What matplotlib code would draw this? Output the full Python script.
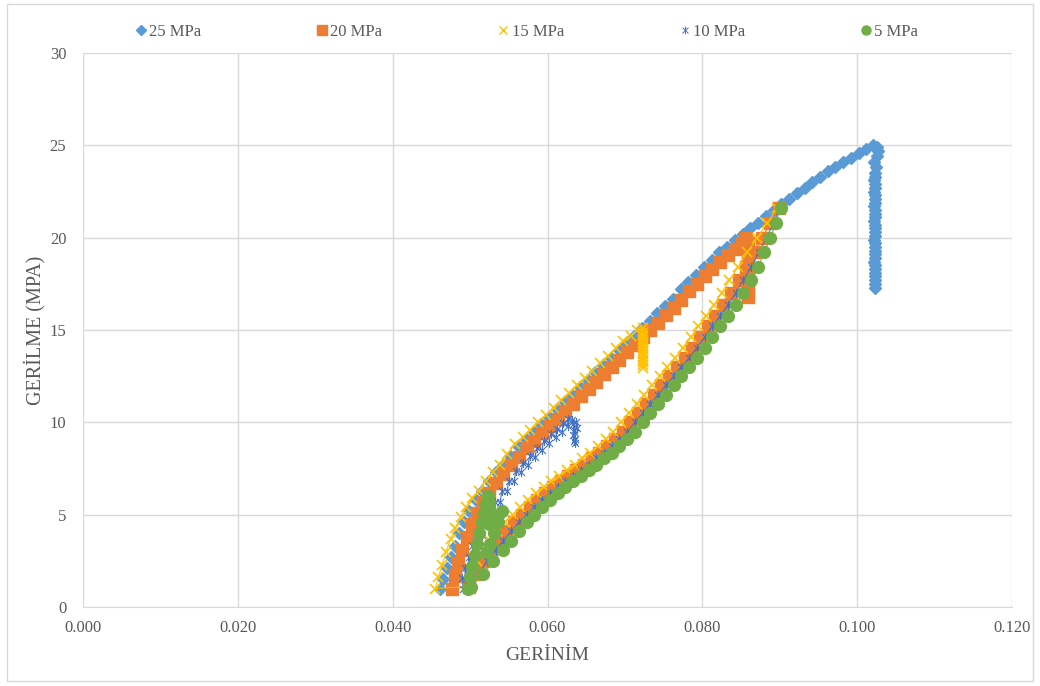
import matplotlib.pyplot as plt
from matplotlib.lines import Line2D
from matplotlib.path import Path
from matplotlib.patches import Rectangle

plt.rcParams['font.family'] = ['Liberation Serif', 'DejaVu Serif']

# 25 MPa: loading branch up to the peak, then stress drop at constant strain
up25_strain = [0.0461, 0.0465, 0.0470, 0.0475, 0.0480, 0.0486, 0.0492, 0.0499, 0.0507, 0.0515,
               0.0524, 0.0533, 0.0542, 0.0552, 0.0562, 0.0572, 0.0582, 0.0592, 0.0602, 0.0612,
               0.0622, 0.0632, 0.0642, 0.0652, 0.0662, 0.0672, 0.0682, 0.0692, 0.0702, 0.0712,
               0.0722, 0.0732, 0.0742, 0.0752, 0.0762, 0.0772, 0.0782, 0.0792, 0.0802, 0.0812,
               0.0822, 0.0832, 0.0842, 0.0852, 0.0862, 0.0872, 0.0882, 0.0892, 0.0902, 0.0912,
               0.0922, 0.0932, 0.0942, 0.0952, 0.0962, 0.0972, 0.0982, 0.0992, 0.1002, 0.1012,
               0.1020]
up25_stress = [1.0, 1.5, 2.1, 2.7, 3.3, 4.0, 4.6, 5.2, 5.8, 6.3,
               6.8, 7.3, 7.7, 8.2, 8.7, 9.1, 9.5, 9.9, 10.3, 10.7,
               11.1, 11.5, 11.9, 12.3, 12.7, 13.1, 13.5, 13.9, 14.3, 14.7,
               15.1, 15.5, 15.9, 16.3, 16.7, 17.2, 17.6, 18.0, 18.4, 18.8,
               19.2, 19.5, 19.9, 20.2, 20.5, 20.8, 21.2, 21.5, 21.8, 22.1,
               22.4, 22.7, 23.0, 23.3, 23.6, 23.8, 24.1, 24.3, 24.6, 24.8,
               25.0]
hold25_strain = [0.1025, 0.1027, 0.1025, 0.1022, 0.1024, 0.1023,
                 0.1023, 0.1022, 0.1023, 0.1023, 0.1022, 0.1023, 0.1023, 0.1023, 0.1022, 0.1023,
                 0.1023, 0.1023, 0.1022, 0.1023, 0.1023, 0.1023, 0.1023, 0.1022, 0.1023, 0.1023,
                 0.1023, 0.1023, 0.1023, 0.1022, 0.1023, 0.1023, 0.1023, 0.1023, 0.1023, 0.1023,
                 0.1023]
hold25_stress = [24.9, 24.7, 24.4, 24.1, 23.8, 23.5,
                 23.3, 23.1, 22.9, 22.7, 22.5, 22.3, 22.1, 21.9, 21.7, 21.5,
                 21.3, 21.1, 20.9, 20.7, 20.5, 20.3, 20.1, 19.9, 19.7, 19.5,
                 19.3, 19.1, 18.9, 18.7, 18.5, 18.3, 18.1, 17.9, 17.7, 17.5,
                 17.3]

# lower branch (common stress levels, strain per test)
low_stress = [1.1, 1.8, 2.5, 3.1, 3.6, 4.1, 4.6, 5.0, 5.4, 5.8,
              6.15, 6.5, 6.8, 7.1, 7.4, 7.7, 8.05, 8.35, 8.7, 9.1,
              9.5, 10.0, 10.5, 11.0, 11.5, 12.0, 12.5, 13.0, 13.5, 14.05,
              14.6, 15.2, 15.75, 16.35, 17.0, 17.7, 18.4, 19.2, 20.0, 20.8,
              21.6]
low20_strain = [0.0499, 0.0508, 0.0518, 0.0527, 0.0537, 0.0547, 0.0557, 0.0567, 0.0577, 0.0587,
                0.0597, 0.0607, 0.0617, 0.0627, 0.0637, 0.0647, 0.0657, 0.0667, 0.0677, 0.0687,
                0.0697, 0.0707, 0.0717, 0.0727, 0.0737, 0.0747, 0.0757, 0.0767, 0.0777, 0.0787,
                0.0797, 0.0807, 0.0817, 0.0827, 0.0837, 0.0847, 0.0857, 0.0867, 0.0877, 0.0888,
                0.0899]
low15_strain = [0.0495, 0.0502, 0.0509, 0.0517, 0.0526, 0.0535, 0.0545, 0.0555, 0.0565, 0.0575,
                0.0585, 0.0595, 0.0605, 0.0615, 0.0625, 0.0635, 0.0645, 0.0655, 0.0665, 0.0675,
                0.0685, 0.0695, 0.0705, 0.0715, 0.0725, 0.0735, 0.0745, 0.0755, 0.0765, 0.0775,
                0.0785, 0.0795, 0.0805, 0.0815, 0.0825, 0.0835, 0.0846, 0.0858, 0.0871, 0.0884,
                0.0897]
low10_strain = [0.0500, 0.0511, 0.0522, 0.0533, 0.0543, 0.0553, 0.0563, 0.0573, 0.0583, 0.0593,
                0.0603, 0.0613, 0.0623, 0.0633, 0.0643, 0.0653, 0.0663, 0.0673, 0.0683, 0.0693,
                0.0703, 0.0713, 0.0723, 0.0733, 0.0743, 0.0753, 0.0763, 0.0773, 0.0783, 0.0793,
                0.0803, 0.0813, 0.0823, 0.0833, 0.0843, 0.0853, 0.0863, 0.0873, 0.0883, 0.0892,
                0.0900]
low5_strain = [0.0501, 0.0517, 0.0530, 0.0542, 0.0553, 0.0563, 0.0573, 0.0583, 0.0593, 0.0603,
               0.0613, 0.0623, 0.0633, 0.0643, 0.0653, 0.0663, 0.0673, 0.0683, 0.0693, 0.0703,
               0.0713, 0.0723, 0.0733, 0.0743, 0.0753, 0.0763, 0.0773, 0.0783, 0.0793, 0.0803,
               0.0813, 0.0823, 0.0833, 0.0843, 0.0853, 0.0863, 0.0872, 0.0880, 0.0888, 0.0895,
               0.0901]

# 20 MPa loading + hold
up20_strain = [0.0476, 0.0480, 0.0485, 0.0490, 0.0496, 0.0502, 0.0509, 0.0517, 0.0525, 0.0534,
               0.0543, 0.0553, 0.0563, 0.0573, 0.0583, 0.0593, 0.0603, 0.0613, 0.0623, 0.0633,
               0.0643, 0.0653, 0.0663, 0.0673, 0.0683, 0.0693, 0.0703, 0.0713, 0.0723, 0.0733,
               0.0743, 0.0753, 0.0763, 0.0773, 0.0783, 0.0793, 0.0803, 0.0813, 0.0823, 0.0833,
               0.0843, 0.0851, 0.0857]
up20_stress = [1.0, 1.7, 2.4, 3.1, 3.8, 4.5, 5.1, 5.7, 6.2, 6.7,
               7.2, 7.7, 8.1, 8.6, 9.0, 9.4, 9.8, 10.2, 10.6, 11.0,
               11.4, 11.8, 12.2, 12.6, 13.0, 13.4, 13.8, 14.2, 14.6, 15.0,
               15.4, 15.8, 16.2, 16.6, 17.1, 17.5, 17.9, 18.3, 18.7, 19.05,
               19.4, 19.7, 20.0]
hold20_strain = [0.0859, 0.0859, 0.0859, 0.0859, 0.0859, 0.0859, 0.0859, 0.0859, 0.0859, 0.0859]
hold20_stress = [19.7, 19.35, 19.0, 18.65, 18.3, 17.95, 17.6, 17.25, 16.95, 16.8]

# 15 MPa loading + hold
up15_strain = [0.0455, 0.0459, 0.0464, 0.0469, 0.0475, 0.0481, 0.0488, 0.0495, 0.0503, 0.0511,
               0.0520, 0.0529, 0.0538, 0.0548, 0.0558, 0.0568, 0.0578, 0.0588, 0.0598, 0.0608,
               0.0618, 0.0628, 0.0638, 0.0648, 0.0658, 0.0668, 0.0678, 0.0688, 0.0698, 0.0708,
               0.0716, 0.0723]
up15_stress = [1.0, 1.6, 2.3, 3.0, 3.7, 4.3, 4.9, 5.4, 5.9, 6.3,
               6.8, 7.3, 7.7, 8.3, 8.8, 9.2, 9.6, 10.0, 10.4, 10.8,
               11.2, 11.6, 12.0, 12.4, 12.8, 13.2, 13.6, 14.0, 14.4, 14.7,
               15.0, 15.1]
hold15_strain = [0.0723, 0.0723, 0.0723, 0.0723, 0.0723, 0.0723, 0.0723,
                 0.0723, 0.0723, 0.0723, 0.0723, 0.0723, 0.0723, 0.0723]
hold15_stress = [14.9, 14.75, 14.6, 14.45, 14.3, 14.15, 14.0,
                 13.85, 13.7, 13.55, 13.4, 13.25, 13.1, 12.95]

# 10 MPa loading (noisy, zig-zag) + hold
up10_strain = [0.0491, 0.0490, 0.0494, 0.0493, 0.0498, 0.0498, 0.0503, 0.0503, 0.0509, 0.0509,
               0.0515, 0.0516, 0.0522, 0.0523, 0.0530, 0.0532, 0.0539, 0.0541, 0.0548, 0.0550,
               0.0557, 0.0559, 0.0566, 0.0568, 0.0575, 0.0577, 0.0584, 0.0586, 0.0593, 0.0595,
               0.0602, 0.0604, 0.0611, 0.0612, 0.0619, 0.0620, 0.0626, 0.0626, 0.0632]
up10_stress = [1.0, 1.55, 1.5, 2.1, 2.1, 2.7, 2.7, 3.3, 3.3, 3.9,
               3.9, 4.5, 4.5, 5.1, 5.1, 5.7, 5.7, 6.3, 6.3, 6.85,
               6.8, 7.35, 7.3, 7.8, 7.7, 8.2, 8.1, 8.6, 8.5, 9.0,
               8.9, 9.35, 9.2, 9.65, 9.5, 9.95, 9.8, 10.2, 10.1]
hold10_strain = [0.0637, 0.0633, 0.0638, 0.0634, 0.0636, 0.0633, 0.0635, 0.0634, 0.0635]
hold10_stress = [10.0, 9.9, 9.7, 9.6, 9.4, 9.3, 9.1, 9.0, 8.9]

# 5 MPa loading + hold
up5_strain = [0.0497, 0.0500, 0.0503, 0.0506, 0.0509, 0.0512, 0.0515, 0.0518, 0.0521, 0.0523]
up5_stress = [1.0, 1.6, 2.2, 2.8, 3.4, 4.0, 4.6, 5.1, 5.6, 6.0]
hold5_strain = [0.0524, 0.0524, 0.0524, 0.0524, 0.0524, 0.0530, 0.0536, 0.0541, 0.0536, 0.0531, 0.0526, 0.0522]
hold5_stress = [5.7, 5.4, 5.1, 4.8, 4.5, 4.6, 5.0, 5.2, 4.6, 4.0, 3.4, 3.0]

labels = ['25 MPa', '20 MPa', '15 MPa', '10 MPa', '5 MPa']
colors = ['#5B9BD5', '#ED7D31', '#FFC000', '#4472C4', '#70AD47']

# excel style "star" marker: an x with a vertical bar
star = Path([(-1, -1), (1, 1), (-1, 1), (1, -1), (0, -1.3), (0, 1.3)],
            [Path.MOVETO, Path.LINETO, Path.MOVETO, Path.LINETO, Path.MOVETO, Path.LINETO])

fig = plt.figure(figsize=(10.4, 6.86), dpi=100)
ax = fig.add_axes([83 / 1040, 79 / 686, 929 / 1040, 554 / 686])

# 25 MPa - markers only
ax.plot(up25_strain + hold25_strain, up25_stress + hold25_stress, ls='none',
        marker='D', ms=6.5, color=colors[0], zorder=3)

# 20 MPa
x20 = low20_strain[::-1] + up20_strain + hold20_strain
y20 = low_stress[::-1] + up20_stress + hold20_stress
ax.plot(x20, y20, color=colors[1], lw=0.75, marker='s', ms=8.5, zorder=4)

# 15 MPa
x15 = low15_strain[::-1] + up15_strain + hold15_strain
y15 = low_stress[::-1] + up15_stress + hold15_stress
ax.plot(x15, y15, color=colors[2], lw=0.75, marker='x', ms=7, mew=1.2, zorder=5)

# 10 MPa
x10 = low10_strain[::-1] + up10_strain + hold10_strain
y10 = low_stress[::-1] + up10_stress + hold10_stress
ax.plot(x10, y10, color=colors[3], lw=0.75, marker=star, ms=6.5, mew=0.8, zorder=6)

# 5 MPa
x5 = low5_strain[::-1] + up5_strain + hold5_strain
y5 = low_stress[::-1] + up5_stress + hold5_stress
ax.plot(x5, y5, color=colors[4], lw=0.75, marker='o', ms=8.5, zorder=7)

ax.set_xlim(0, 0.12)
ax.set_ylim(0, 30)
ax.set_xticks([0, 0.02, 0.04, 0.06, 0.08, 0.10, 0.12])
ax.set_xticklabels(['0.000', '0.020', '0.040', '0.060', '0.080', '0.100', '0.120'])
ax.set_yticks([0, 5, 10, 15, 20, 25, 30])
ax.grid(True, color='#D9D9D9', lw=1)
ax.set_axisbelow(True)
for side in ['top', 'right', 'left']:
    ax.spines[side].set_visible(False)
ax.spines['bottom'].set_color('#D9D9D9')
ax.tick_params(length=0, labelsize=12, labelcolor='#595959')
ax.tick_params(axis='x', pad=9)
ax.tick_params(axis='y', pad=12)

ax.set_xlabel('GERİNİM', fontsize=14, color='#595959')
ax.set_ylabel('GERİLME (MPA)', fontsize=14.5, color='#595959')
ax.xaxis.set_label_coords(0.5, -0.072)
ax.yaxis.set_label_coords(-0.040, 0.5)

handles = [
    Line2D([], [], ls='none', marker='D', ms=5.5, color=colors[0]),
    Line2D([], [], ls='none', marker='s', ms=7, color=colors[1]),
    Line2D([], [], ls='none', marker='x', ms=6, mew=1.0, color=colors[2]),
    Line2D([], [], ls='none', marker=star, ms=5.5, mew=0.7, color=colors[3]),
    Line2D([], [], ls='none', marker='o', ms=6.5, color=colors[4]),
]
fig.legend(handles, labels, loc='center', bbox_to_anchor=(527 / 1040, 1 - 32 / 686), ncol=5,
           frameon=False, fontsize=12, handlelength=0.6, handletextpad=0.2,
           columnspacing=6.95, labelcolor='#595959')

fig.add_artist(Rectangle((7 / 1040, 5 / 686), 1026 / 1040, 677 / 686, transform=fig.transFigure,
                         fill=False, ec='#D9D9D9', lw=1))

fig.savefig('out.png', dpi=100)
